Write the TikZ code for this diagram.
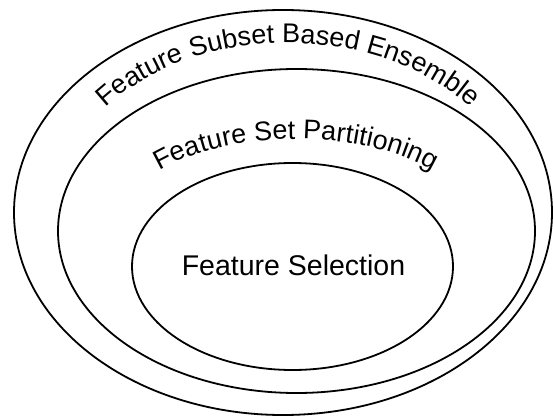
\documentclass[tikz,border=0pt]{standalone}
\usepackage{fontspec}
\setmainfont{Liberation Sans}
\usetikzlibrary{shapes.geometric,decorations.text}
\newcommand\arclabelfont{\fontsize{27}{32}\selectfont}
\begin{document}
\begin{tikzpicture}[x=1pt,y=1pt,
  ring/.style={draw, ellipse, line width=1.8pt, inner sep=0pt, outer sep=0pt}]
  \useasboundingbox (0,0) rectangle (553,418);

  % nested sets
  \node[ring, minimum width=538pt, minimum height=405pt] (outerring) at (283,205.5) {};
  \node[ring, minimum width=477pt, minimum height=324pt] (midring) at (296.5,187) {};
  \node[ring, minimum width=321pt, minimum height=207pt] (innerring) at (292.5,151.5) {};

  % curved labels following the rings
  \path[decorate, decoration={text along path, text align=center,
      text={|\arclabelfont|Feature Subset Based Ensemble}}]
    (288,206) ++(170:232 and 169)
    arc[start angle=170, end angle=10, x radius=232, y radius=169];
  \path[decorate, decoration={text along path, text align=center,
      text={|\arclabelfont|Feature Set Partitioning}}]
    (296,187) ++(170:181 and 92)
    arc[start angle=170, end angle=10, x radius=181, y radius=92];

  % innermost label
  \node[anchor=base, font=\fontsize{28.5}{33}\selectfont, inner sep=0pt] (fslabel)
    at (293.5,143) {Feature Selection};
\end{tikzpicture}
\end{document}
